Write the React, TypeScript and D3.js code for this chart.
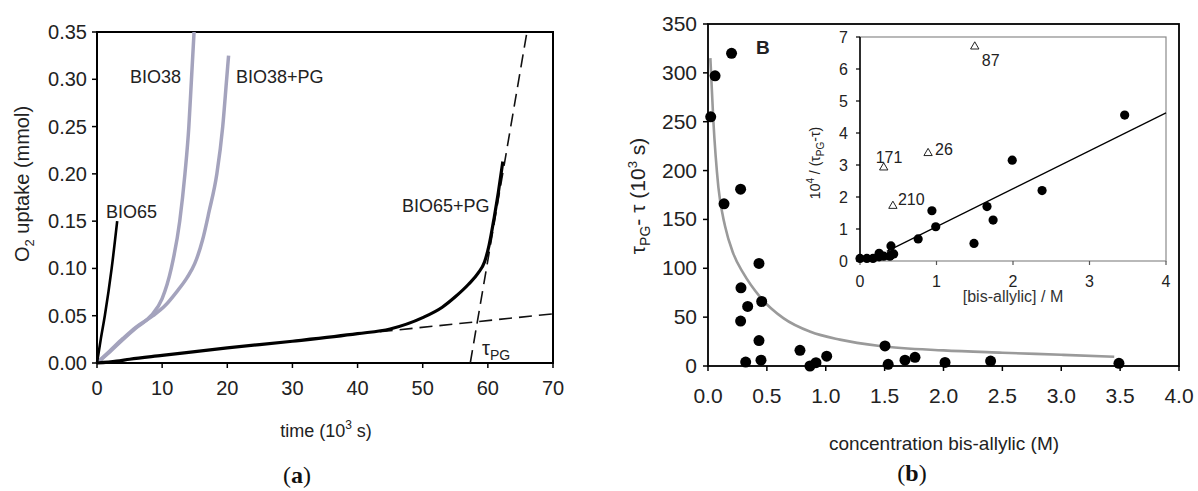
import React from 'react';
import * as d3 from 'd3';

// panel (a): O2 uptake vs time, [time 10^3 s, mmol]
const bio65 = [[0, 0], [0.6, 0.026], [1.2, 0.05], [2.25, 0.1], [3.1, 0.15]];
const bio38 = [[0, 0], [2, 0.012], [4, 0.025], [6, 0.037], [8.3, 0.05], [10, 0.068], [11.4, 0.1], [12.7, 0.15], [13.5, 0.2], [14.1, 0.25], [14.5, 0.3], [14.9, 0.35]];
const bio38pg = [[0, 0], [2, 0.013], [4, 0.026], [6, 0.038], [8.6, 0.05], [10.5, 0.061], [12.2, 0.075], [13.8, 0.09], [15.0, 0.105], [16.2, 0.13], [17.2, 0.16], [18.4, 0.2], [19.3, 0.25], [19.9, 0.3], [20.2, 0.325]];
const bio65pg = [[0, 0], [3, 0.002], [5, 0.004], [10, 0.008], [20, 0.016], [30, 0.023], [40, 0.031], [45, 0.036], [50, 0.048], [53, 0.059], [55, 0.07], [57, 0.083], [58.5, 0.095], [59.5, 0.107], [60.2, 0.125], [61, 0.155], [61.6, 0.18], [62.3, 0.213]];
const tangentSlow = [[43.4, 0.033], [70, 0.052]];
const tangentFast = [[57.3, 0], [66, 0.35]];
const timeTicks = [0, 10, 20, 30, 40, 50, 60, 70];
const uptakeTicks = [0, 0.05, 0.1, 0.15, 0.2, 0.25, 0.3, 0.35];

// panel (b): tau_PG - tau vs bis-allylic concentration
const concPoints = [
  [0.2, 320], [0.06, 297], [0.023, 255], [0.136, 166], [0.277, 181],
  [0.433, 105], [0.28, 80], [0.337, 61], [0.277, 46], [0.456, 66],
  [0.433, 26], [0.32, 4], [0.45, 6], [0.781, 16], [0.866, 0],
  [0.917, 3.4], [1.008, 10], [1.503, 20.5], [1.53, 1.7], [1.673, 6],
  [1.758, 8.9], [2.013, 3.7], [2.4, 5], [3.49, 2.7],
];
const fitCurve = [
  [0.02, 315], [0.045, 252], [0.088, 183], [0.145, 143], [0.215, 115], [0.3, 95],
  [0.44, 71], [0.64, 49], [0.87, 35], [1.12, 27], [1.46, 20.5], [2.0, 16],
  [2.5, 13.6], [3.0, 11.5], [3.45, 9.5],
];
const concTicks = [0, 0.5, 1, 1.5, 2, 2.5, 3, 3.5, 4];
const tauTicks = [0, 50, 100, 150, 200, 250, 300, 350];

// inset: 10^4/(tau_PG - tau) vs [bis-allylic]
const insetPoints = [
  [3.46, 4.56], [1.99, 3.15], [2.38, 2.2], [0.94, 1.57], [1.66, 1.7], [1.74, 1.28],
  [0.99, 1.07], [0.76, 0.69], [1.49, 0.55], [0.405, 0.47], [0.25, 0.24], [0.405, 0.19],
  [0, 0.08], [0.09, 0.08], [0.17, 0.08], [0.25, 0.13], [0.31, 0.15], [0.39, 0.15], [0.44, 0.22],
];
const outliers = [
  { x: 1.5, y: 6.7, label: '87' },
  { x: 0.89, y: 3.37, label: '26' },
  { x: 0.31, y: 2.92, label: '171' },
  { x: 0.43, y: 1.72, label: '210' },
];
const insetFit = [[0.35, 0.3], [4.0, 4.63]];
const insetXTicks = [0, 1, 2, 3, 4];
const insetYTicks = [0, 1, 2, 3, 4, 5, 6, 7];

const font = 'Liberation Sans, Arial, sans-serif';

export default function App() {
  // panel (a) scales
  const xa = d3.scaleLinear().domain([0, 70]).range([97, 553]);
  const ya = d3.scaleLinear().domain([0, 0.35]).range([363, 32]);
  const lineA = d3.line<number[]>().x(d => xa(d[0])).y(d => ya(d[1])).curve(d3.curveMonotoneX);
  const straightA = d3.line<number[]>().x(d => xa(d[0])).y(d => ya(d[1]));

  // panel (b) scales
  const xb = d3.scaleLinear().domain([0, 4]).range([708, 1179]);
  const yb = d3.scaleLinear().domain([0, 350]).range([366, 24]);
  const lineB = d3.line<number[]>().x(d => xb(d[0])).y(d => yb(d[1])).curve(d3.curveMonotoneX);

  // inset scales
  const xi = d3.scaleLinear().domain([0, 4]).range([860, 1166]);
  const yi = d3.scaleLinear().domain([0, 7]).range([261, 37]);
  const lineI = d3.line<number[]>().x(d => xi(d[0])).y(d => yi(d[1]));
  const tri = d3.symbol().type(d3.symbolTriangle).size(30)();

  const lavender = '#a4a3bd';

  return (
    <svg width={1198} height={491} style={{ position: 'absolute', left: 0, top: 0, background: '#fff' }} fontFamily={font}>
      {/* ---------- panel (a) ---------- */}
      <g>
        <rect x={xa(0)} y={ya(0.35)} width={xa(70) - xa(0)} height={ya(0) - ya(0.35)} fill="none" stroke="#000" strokeWidth={2} />
        {timeTicks.map(t => (
          <g key={t}>
            <line x1={xa(t)} x2={xa(t)} y1={ya(0)} y2={ya(0) + 5} stroke="#000" strokeWidth={1.5} />
            <text x={xa(t)} y={395} textAnchor="middle" fontSize={20} fill="#222">{t}</text>
          </g>
        ))}
        {uptakeTicks.map(t => (
          <g key={t}>
            <line x1={xa(0) - 5} x2={xa(0)} y1={ya(t)} y2={ya(t)} stroke="#000" strokeWidth={1.5} />
            <text x={87} y={ya(t) + 7} textAnchor="end" fontSize={20} fill="#222">{t.toFixed(2)}</text>
          </g>
        ))}
        <text transform="translate(29,184) rotate(-90)" textAnchor="middle" fontSize={20} fill="#222">
          O<tspan dy={5} fontSize={13}>2</tspan><tspan dy={-5}> uptake (mmol)</tspan>
        </text>
        <text x={326} y={437} textAnchor="middle" fontSize={18} fill="#222">
          time (10<tspan dy={-8} fontSize={12}>3</tspan><tspan dy={8}> s)</tspan>
        </text>
        <text x={297} y={483} textAnchor="middle" fontSize={24} fontFamily="Liberation Serif, Times New Roman, serif" fill="#111">
          (<tspan fontWeight="bold">a</tspan>)
        </text>

        <path d={straightA(tangentSlow) || ''} fill="none" stroke="#111" strokeWidth={1.6} strokeDasharray="13,7" />
        <path d={straightA(tangentFast) || ''} fill="none" stroke="#111" strokeWidth={1.6} strokeDasharray="13,7" />
        <path d={lineA(bio38) || ''} fill="none" stroke={lavender} strokeWidth={3.5} />
        <path d={lineA(bio38pg) || ''} fill="none" stroke={lavender} strokeWidth={3.5} />
        <path d={lineA(bio65) || ''} fill="none" stroke="#000" strokeWidth={2.6} />
        <path d={lineA(bio65pg) || ''} fill="none" stroke="#000" strokeWidth={3.2} />

        <text x={106} y={218} fontSize={18} fill="#222">BIO65</text>
        <text x={130} y={83} fontSize={18} fill="#222">BIO38</text>
        <text x={236} y={83} fontSize={18} fill="#222">BIO38+PG</text>
        <text x={402} y={212} fontSize={18} fill="#222">BIO65+PG</text>
        <text x={482} y={355} fontSize={20} fill="#222">
          τ<tspan dy={5} fontSize={14}>PG</tspan>
        </text>
      </g>

      {/* ---------- panel (b) ---------- */}
      <g>
        <rect x={xb(0)} y={yb(350)} width={xb(4) - xb(0)} height={yb(0) - yb(350)} fill="none" stroke="#000" strokeWidth={1.8} />
        {concTicks.map(t => (
          <g key={t}>
            <line x1={xb(t)} x2={xb(t)} y1={yb(0)} y2={yb(0) + 5} stroke="#000" strokeWidth={1.5} />
            <text x={xb(t)} y={403} textAnchor="middle" fontSize={21} fill="#222">{t.toFixed(1)}</text>
          </g>
        ))}
        {tauTicks.map(t => (
          <g key={t}>
            <line x1={xb(0) - 5} x2={xb(0)} y1={yb(t)} y2={yb(t)} stroke="#000" strokeWidth={1.5} />
            <text x={697} y={yb(t) + 7} textAnchor="end" fontSize={21} fill="#222">{t}</text>
          </g>
        ))}
        <text transform="translate(645,196) rotate(-90)" textAnchor="middle" fontSize={21} fill="#222">
          τ<tspan dy={5} fontSize={14}>PG</tspan><tspan dy={-5}>- τ (10</tspan><tspan dy={-8} fontSize={13}>3</tspan><tspan dy={8}> s)</tspan>
        </text>
        <text x={944} y={450} textAnchor="middle" fontSize={19} fill="#222">concentration bis-allylic (M)</text>
        <text x={912} y={481} textAnchor="middle" fontSize={24} fontFamily="Liberation Serif, Times New Roman, serif" fill="#111">
          (<tspan fontWeight="bold">b</tspan>)
        </text>
        <text x={756} y={54} fontSize={19} fontWeight="bold" fill="#222">B</text>

        <path d={lineB(fitCurve) || ''} fill="none" stroke="#9a9a9a" strokeWidth={2.6} />
        {concPoints.map((d, i) => (
          <circle key={i} cx={xb(d[0])} cy={yb(d[1])} r={5.5} fill="#000" />
        ))}

        {/* inset */}
        <rect x={xi(0)} y={yi(7)} width={xi(4) - xi(0)} height={yi(0) - yi(7)} fill="#fff" stroke="#8a8a8a" strokeWidth={1.2} />
        <line x1={xi(0)} x2={xi(0)} y1={yi(0)} y2={yi(7)} stroke="#000" strokeWidth={1.5} />
        {insetXTicks.map(t => (
          <g key={t}>
            <line x1={xi(t)} x2={xi(t)} y1={yi(0)} y2={yi(0) + 4} stroke="#555" strokeWidth={1.2} />
            <text x={xi(t)} y={287} textAnchor="middle" fontSize={16} fill="#222">{t}</text>
          </g>
        ))}
        {insetYTicks.map(t => (
          <g key={t}>
            <line x1={xi(0) - 4} x2={xi(0)} y1={yi(t)} y2={yi(t)} stroke="#000" strokeWidth={1.2} />
            <text x={848} y={yi(t) + 5.5} textAnchor="end" fontSize={16} fill="#222">{t}</text>
          </g>
        ))}
        <text transform="translate(820,163) rotate(-90)" textAnchor="middle" fontSize={14} fill="#222">
          10<tspan dy={-6} fontSize={10}>4</tspan><tspan dy={6}> / (τ</tspan><tspan dy={4} fontSize={10}>PG</tspan><tspan dy={-4}>-τ)</tspan>
        </text>
        <text x={1013} y={302} textAnchor="middle" fontSize={16} fill="#333">[bis-allylic] / M</text>

        <path d={lineI(insetFit) || ''} fill="none" stroke="#000" strokeWidth={1.2} />
        {insetPoints.map((d, i) => (
          <circle key={i} cx={xi(d[0])} cy={yi(d[1])} r={4.6} fill="#000" />
        ))}
        {outliers.map(o => (
          <path key={o.label} d={tri || ''} transform={`translate(${xi(o.x)},${yi(o.y)})`} fill="none" stroke="#222" strokeWidth={1} />
        ))}
        <text x={xi(1.5) + 7} y={yi(6.7) + 19} fontSize={16} fill="#222">87</text>
        <text x={xi(0.89) + 7} y={yi(3.37) + 2} fontSize={16} fill="#222">26</text>
        <text x={xi(0.31) - 8} y={yi(2.92) - 5} fontSize={16} fill="#222">171</text>
        <text x={xi(0.43) + 5} y={yi(1.72) - 1} fontSize={16} fill="#222">210</text>
      </g>
    </svg>
  );
}
